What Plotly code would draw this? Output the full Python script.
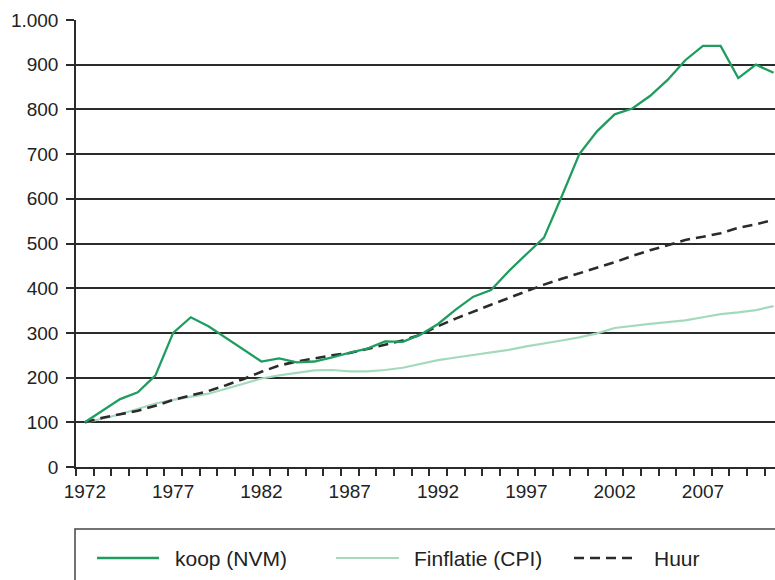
import plotly.graph_objects as go

# Index numbers, 1972 = 100
years = list(range(1972, 2012))

koop_nvm = [100, 127, 152, 167, 205, 300, 335, 315, 289, 262,
            236, 243, 234, 236, 245, 256, 265, 281, 280, 296,
            320, 352, 381, 396, 438, 476, 513, 605, 700, 751,
            789, 802, 830, 866, 910, 942, 942, 870, 900, 882]

inflatie_cpi = [100, 108, 118, 130, 142, 150, 157, 164, 175, 187,
                198, 205, 210, 216, 217, 214, 214, 217, 222, 230,
                239, 245, 251, 256, 262, 270, 276, 283, 290, 299,
                311, 316, 320, 324, 328, 335, 342, 346, 351, 360]

huur = [100, 110, 118, 126, 137, 150, 160, 170, 183, 197,
        213, 227, 236, 243, 250, 255, 264, 273, 283, 296,
        315, 332, 348, 363, 378, 393, 408, 421, 433, 446,
        458, 472, 485, 496, 508, 515, 523, 535, 543, 553]

series_names = ["koop (NVM)", "Finflatie (CPI)", "Huur"]
label_years = [1972, 1977, 1982, 1987, 1992, 1997, 2002, 2007]
y_ticks = [0, 100, 200, 300, 400, 500, 600, 700, 800, 900, 1000]
y_ticktext = ["0", "100", "200", "300", "400", "500", "600", "700", "800", "900", "1.000"]

GREEN = "#1f9d60"
LIGHT_GREEN = "#a3dabd"
DARK = "#2b2b2b"
FONT = "Liberation Sans, Arial, sans-serif"

W, H = 775, 580
ML, MR, MT, MB = 76, 0, 20, 113
PW, PH = W - ML - MR, H - MT - MB


def px_x(px):
    return (px - ML) / PW


def px_y(py):
    return (H - MB - py) / PH


styles = [
    dict(color=GREEN, width=2.3),
    dict(color=LIGHT_GREEN, width=2.2),
    dict(color=DARK, width=2.6, dash="10px,6px"),
]

fig = go.Figure()
for name, vals, st in zip(series_names, [koop_nvm, inflatie_cpi, huur], styles):
    fig.add_trace(go.Scatter(x=years, y=vals, mode="lines", name=name,
                             line=st, showlegend=False))

# Put the lighter series underneath
fig.data = (fig.data[1], fig.data[2], fig.data[0])

shapes = [
    # legend frame
    dict(type="rect", xref="paper", yref="paper",
         x0=px_x(75), x1=px_x(800), y0=px_y(529), y1=px_y(620),
         line=dict(color="#444444", width=1.5), fillcolor="rgba(0,0,0,0)",
         layer="above"),
]
annotations = []
legend_items = [
    (97, 159, 173),
    (336, 399, 412),
    (574, 634, 652),
]
legend_y = 558
for name, st, (lx0, lx1, tx) in zip(series_names, styles, legend_items):
    shapes.append(dict(type="line", xref="paper", yref="paper",
                       x0=px_x(lx0), x1=px_x(lx1), y0=px_y(legend_y), y1=px_y(legend_y),
                       line=dict(color=st["color"], width=st["width"],
                                 dash=st.get("dash", "solid"))))
    annotations.append(dict(xref="paper", yref="paper", x=px_x(tx), y=px_y(legend_y),
                            text=name, showarrow=False, xanchor="left", yanchor="middle",
                            font=dict(family=FONT, size=21, color="#222222")))

fig.update_layout(
    width=W, height=H,
    margin=dict(l=ML, r=MR, t=MT, b=MB, pad=0),
    paper_bgcolor="white", plot_bgcolor="white",
    showlegend=False,
    font=dict(family=FONT, size=19, color="#222222"),
    shapes=shapes,
    annotations=annotations,
)

fig.update_xaxes(
    range=[1971.5, 2011.08],
    tickmode="array", tickvals=label_years, ticktext=[str(y) for y in label_years],
    ticks="outside", ticklen=6, tickcolor="rgba(0,0,0,0)",
    minor=dict(tickmode="array", tickvals=[y + 0.5 for y in range(1971, 2012)],
               ticks="outside", ticklen=7, tickwidth=1.5, tickcolor=DARK, showgrid=False),
    showgrid=False, zeroline=False,
    showline=True, linecolor=DARK, linewidth=1.5,
    tickfont=dict(size=19, color="#222222"),
)

fig.update_yaxes(
    range=[0, 1000],
    tickmode="array", tickvals=y_ticks, ticktext=y_ticktext,
    ticks="outside", ticklen=8, tickwidth=1.5, tickcolor=DARK,
    showgrid=True, gridcolor=DARK, gridwidth=1.5,
    zeroline=False,
    showline=True, linecolor=DARK, linewidth=1.5,
    tickfont=dict(size=19, color="#222222"),
    ticklabelstandoff=4,
)

fig.write_html("out.html")
